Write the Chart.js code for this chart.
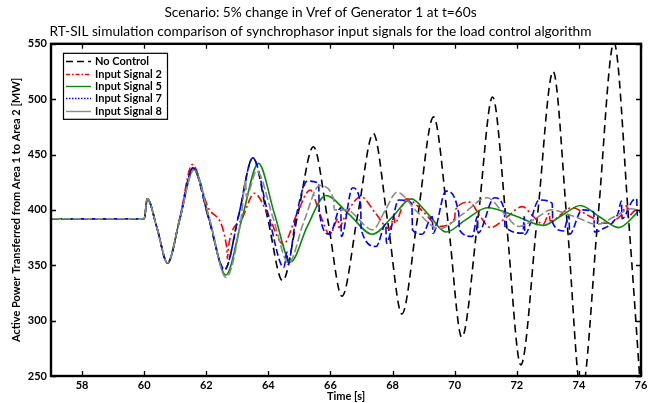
<!DOCTYPE html>
<html>
<head>
<meta charset="utf-8">
<script src="https://cdn.jsdelivr.net/npm/chart.js@4.4.1/dist/chart.umd.min.js"></script>
<style>
html,body{margin:0;padding:0;background:#fff;}
#wrap{width:657px;height:403px;position:relative;}
</style>
</head>
<body>
<div id="wrap"><canvas id="c" width="657" height="403"></canvas></div>
<script>
// ---- Data ----
const titleLines = ["Scenario: 5% change in Vref of Generator 1 at t=60s",
  "RT-SIL simulation comparison of synchrophasor input signals for the load control algorithm"];
const xTicks = [58, 60, 62, 64, 66, 68, 70, 72, 74, 76];
const yTicks = [250, 300, 350, 400, 450, 500, 550];

// No Control
const tNoControl = [57, 60.0, 60.1, 60.42, 60.75, 61.15, 61.57, 62.08, 62.59, 63.05, 63.5, 63.98, 64.46, 64.95, 65.45, 65.92, 66.37, 66.88, 67.38, 67.85, 68.3, 68.8, 69.32, 69.8, 70.23, 70.75, 71.22, 71.68, 72.13, 72.66, 73.17, 73.63, 74.08, 74.62, 75.13, 75.6, 76];
const pNoControl = [392, 392, 410, 383, 352, 392, 438, 392, 346, 396, 447, 392, 336, 396, 457, 390, 322, 396, 469, 388, 306, 392, 484, 386, 285, 392, 502, 384, 260, 393, 525, 385, 234, 395, 551, 392, 232];

// Input Signal 2
const tSignal2 = [57, 60.0, 60.1, 60.42, 60.75, 61.15, 61.55, 62.1, 62.66, 62.68, 62.72, 63.15, 63.55, 64.0, 64.48, 64.9, 65.35, 65.65, 65.98, 66.25, 66.27, 66.5, 66.98, 67.45, 67.9, 68.05, 68.07, 68.45, 69.0, 69.5, 70.0, 70.02, 70.48, 70.8, 71.15, 71.7, 72.18, 72.5, 72.85, 73.05, 73.07, 73.78, 74.3, 74.86, 75.35, 75.55, 75.57, 75.85, 76];
const pSignal2 = [392, 392, 410, 383, 352, 393, 441, 400, 366, 356, 368, 392, 415, 395, 369, 395, 418, 397, 378, 392, 384, 396, 412, 397, 383, 394, 388, 410, 398, 385, 392, 400, 407, 395, 384, 394, 403, 395, 387, 397, 390, 402, 395, 388, 395, 404, 394, 400, 398];

// Input Signal 5
const tSignal5 = [57, 60.0, 60.1, 60.42, 60.75, 61.15, 61.6, 62.1, 62.63, 63.15, 63.68, 64.2, 64.72, 65.25, 65.85, 66.6, 67.35, 68.0, 68.6, 69.15, 69.72, 70.35, 71.05, 72.0, 72.85, 73.45, 74.05, 74.65, 75.28, 75.9];
const pSignal5 = [392, 392, 410, 383, 352, 392, 437, 392, 341, 392, 442, 396, 353, 385, 413, 396, 378, 394, 410, 396, 380, 391, 402, 394, 386, 395, 404, 394, 384, 398];

// Input Signal 7
const tSignal7 = [57, 60.0, 60.1, 60.42, 60.75, 61.15, 61.57, 62.08, 62.59, 63.05, 63.5, 64.0, 64.5, 64.6, 64.62, 64.9, 65.25, 65.62, 65.64, 65.97, 66.33, 66.35, 66.71, 66.97, 66.99, 67.47, 67.78, 67.8, 68.2, 68.62, 68.64, 68.95, 69.28, 69.3, 69.72, 70.13, 70.15, 70.57, 70.73, 70.75, 71.28, 71.6, 71.62, 72.2, 72.24, 72.26, 72.72, 73.14, 73.16, 73.5, 73.68, 73.7, 74.1, 74.48, 74.5, 74.72, 75.25, 75.37, 75.39, 75.72, 75.86, 75.88, 76];
const pSignal7 = [392, 392, 410, 383, 352, 392, 438, 392, 346, 396, 447, 395, 348, 362, 350, 395, 426, 424, 398, 378, 402, 376, 420, 405, 382, 367, 387, 370, 409, 406, 382, 378, 394, 379, 417, 397, 382, 376, 394, 379, 411, 400, 385, 379, 394, 378, 409, 406, 388, 381, 395, 378, 400, 398, 380, 382, 396, 408, 392, 408, 410, 395, 400];

// Input Signal 8
const tSignal8 = [57, 60.0, 60.1, 60.42, 60.75, 61.15, 61.6, 62.1, 62.64, 63.12, 63.27, 63.29, 63.62, 64.15, 64.65, 65.15, 65.65, 66.1, 66.12, 66.5, 67.36, 67.75, 68.15, 68.8, 69.5, 70.25, 71.05, 71.55, 72.07, 72.6, 73.1, 73.85, 74.6, 75.15, 75.7, 76];
const pSignal8 = [392, 392, 410, 383, 352, 392, 436, 392, 339, 392, 427, 412, 435, 393, 352, 390, 422, 410, 400, 400, 382, 399, 416, 398, 383, 396, 411, 398, 385, 392, 400, 394, 387, 394, 401, 399];

function pts(t, p) { return t.map((v, i) => ({x: v, y: p[i]})); }

const FONT = "Lato, 'Open Sans', sans-serif";

const frameAndTicks = {
  id: 'frameAndTicks',
  afterDraw(chart) {
    const {ctx, chartArea: a, scales: {x, y}} = chart;
    ctx.save();
    ctx.strokeStyle = '#000';
    ctx.lineWidth = 1.3;
    const L = 5;
    ctx.beginPath();
    xTicks.forEach(v => {
      const px = Math.round(x.getPixelForValue(v)) + 0.5;
      ctx.moveTo(px, a.bottom); ctx.lineTo(px, a.bottom - L);
      ctx.moveTo(px, a.top); ctx.lineTo(px, a.top + L);
    });
    yTicks.forEach(v => {
      const py = Math.round(y.getPixelForValue(v)) + 0.5;
      ctx.moveTo(a.left, py); ctx.lineTo(a.left + L, py);
      ctx.moveTo(a.right, py); ctx.lineTo(a.right - L, py);
    });
    ctx.stroke();
    ctx.lineWidth = 2.4;
    ctx.strokeRect(a.left, a.top, a.right - a.left, a.bottom - a.top);
    ctx.restore();
  }
};

const boxLegend = {
  id: 'boxLegend',
  afterDraw(chart) {
    const {ctx, chartArea: a} = chart;
    const ds = chart.data.datasets;
    const bx = a.left + 12, by = a.top + 9, bw = 104, bh = 66;
    ctx.save();
    ctx.fillStyle = '#fff';
    ctx.fillRect(bx, by, bw, bh);
    ctx.strokeStyle = '#000';
    ctx.lineWidth = 1.2;
    ctx.strokeRect(bx + 0.5, by + 0.5, bw, bh);
    ctx.font = "bold 11px " + FONT;
    ctx.textBaseline = 'middle';
    ds.forEach((d, i) => {
      const yy = Math.round(by + 8.5 + i * 12.3) + 0.5;
      ctx.beginPath();
      ctx.setLineDash(d.legendDash);
      ctx.strokeStyle = d.borderColor;
      ctx.lineWidth = 1.4;
      ctx.moveTo(bx + 3, yy); ctx.lineTo(bx + 28, yy);
      ctx.stroke();
      ctx.setLineDash([]);
      ctx.fillStyle = '#000';
      ctx.fillText(d.label, bx + 32, yy);
    });
    ctx.restore();
  }
};

const common = {fill: false, pointRadius: 0, borderWidth: 1.6, cubicInterpolationMode: 'monotone'};

new Chart(document.getElementById('c'), {
  type: 'line',
  data: {
    datasets: [
      Object.assign({label: 'No Control', data: pts(tNoControl, pNoControl), borderColor: '#000000', borderDash: [8, 5], legendDash: [7, 4], order: 4}, common),
      Object.assign({label: 'Input Signal 2', data: pts(tSignal2, pSignal2), borderColor: '#ff0000', borderDash: [8, 3, 2, 3], legendDash: [4, 2, 1.5, 2], order: 3}, common),
      Object.assign({label: 'Input Signal 5', data: pts(tSignal5, pSignal5), borderColor: '#0a8a0a', borderDash: [], legendDash: [], order: 2}, common),
      Object.assign({label: 'Input Signal 7', data: pts(tSignal7, pSignal7), borderColor: '#0000ff', borderDash: [7, 3], legendDash: [1.5, 1.5], order: 1}, common),
      Object.assign({label: 'Input Signal 8', data: pts(tSignal8, pSignal8), borderColor: '#8a8a8a', borderDash: [8, 3], legendDash: [], order: 0}, common)
    ]
  },
  options: {
    responsive: false,
    animation: false,
    events: [],
    layout: {padding: {left: 0, right: 16, top: 0, bottom: 0}},
    plugins: {
      legend: {display: false},
      tooltip: {enabled: false},
      title: {
        display: true,
        text: titleLines,
        color: '#000',
        font: {family: FONT, size: 13.7, weight: 'normal', lineHeight: 1.38},
        padding: {top: 3, bottom: 3}
      }
    },
    scales: {
      x: {
        type: 'linear', min: 57, max: 76,
        afterBuildTicks(s) { s.ticks = xTicks.map(v => ({value: v})); },
        afterFit(s) { s.height = 27; },
        grid: {display: false, drawTicks: false},
        border: {display: false},
        ticks: {color: '#000', font: {family: FONT, size: 11, weight: 'bold'}, padding: 3, maxRotation: 0, autoSkip: false},
        title: {display: true, text: 'Time [s]', color: '#000', font: {family: FONT, size: 11, weight: 'bold', lineHeight: 1.2}, padding: {top: 0, bottom: 0}}
      },
      y: {
        type: 'linear', min: 250, max: 550,
        afterBuildTicks(s) { s.ticks = yTicks.map(v => ({value: v})); },
        afterFit(s) { s.width = 51; },
        grid: {display: false, drawTicks: false},
        border: {display: false},
        ticks: {color: '#000', font: {family: FONT, size: 11, weight: 'bold'}, padding: 4},
        title: {display: true, text: 'Active Power Transferred from Area 1 to Area 2 [MW]', color: '#000', font: {family: FONT, size: 11, weight: 'bold', lineHeight: 1.2}, padding: {top: 10, bottom: 0}}
      }
    }
  },
  plugins: [frameAndTicks, boxLegend]
});
</script>
</body>
</html>
